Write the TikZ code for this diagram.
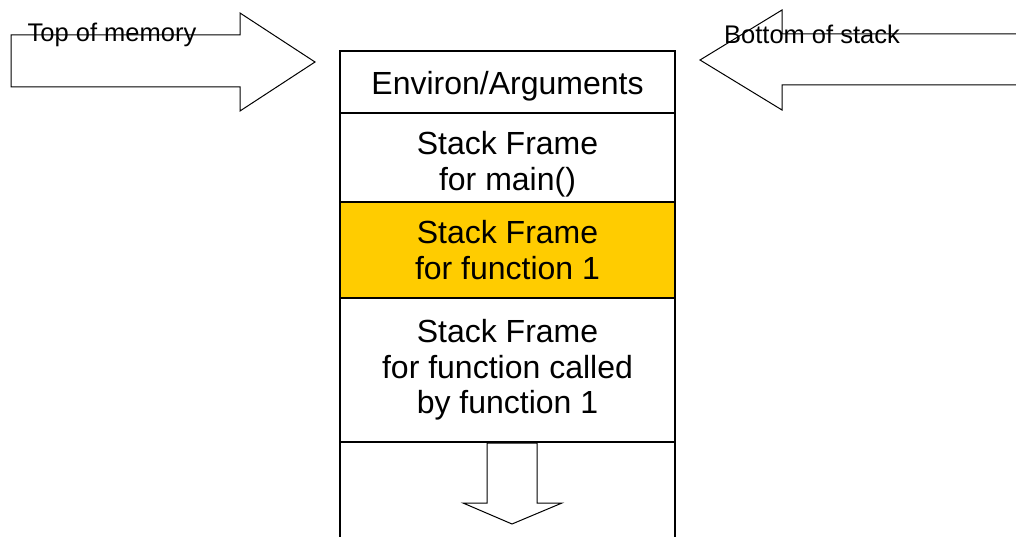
\documentclass[tikz,border=0pt]{standalone}
\usepackage{fontspec}
\setmainfont{Liberation Sans}
\usepackage{xcolor}
\usepackage{tikz}
\usetikzlibrary{positioning}
\definecolor{frameyellow}{HTML}{FFCC00}
\newcommand{\rowfont}{\fontsize{32}{35.5}\selectfont}
\newcommand{\tagfont}{\fontsize{25.5}{30}\selectfont}
\tikzset{
  stackrow/.style={draw, line width=1.2pt, minimum width=335pt, inner sep=0pt, outer sep=0pt, align=center, font=\rowfont},
  blockarrow/.style={draw, line width=1pt, line join=miter}
}

\begin{document}
\begin{tikzpicture}[x=1pt, y=-1pt]
\useasboundingbox (0,0) rectangle (1016,537);
% Stack rows
\node[stackrow, minimum height=62pt] (environ) at (507.5,82) {\rule{0pt}{31pt}Environ/Arguments};
\node[stackrow, minimum height=89pt, below=0pt of environ] (mainframe) {\rule{0pt}{37pt}Stack Frame\\for main()};
\node[stackrow, minimum height=96pt, fill=frameyellow, below=0pt of mainframe] (funcframe) {Stack Frame\\for function 1};
\node[stackrow, minimum height=144pt, below=0pt of funcframe] (calledframe) {Stack Frame\\for function called\\by function 1};
\node[stackrow, draw=none, minimum height=95pt, below=0pt of calledframe] (growth) {};
\draw[line width=1.2pt] (growth.north west) -- (growth.south west);
\draw[line width=1.2pt] (growth.north east) -- (growth.south east);
% Growth arrow
\draw[blockarrow] (487,443) -- (487,503) -- (463,503) -- (512,524) -- (562,503) -- (537,503) -- (537,443) -- cycle;
% Side arrows
\draw[blockarrow] (11,35) -- (240,35) -- (240,13) -- (315,62) -- (240,111) -- (240,87) -- (11,87) -- cycle;
\draw[blockarrow] (1016,34) -- (782,34) -- (782,10) -- (700,60) -- (782,110) -- (782,85) -- (1016,85);
% Labels
\node[font=\tagfont, anchor=base, inner sep=0pt] (topmem) at (112,42) {Top of memory};
\node[font=\tagfont, anchor=base, inner sep=0pt] (botstack) at (812,44) {Bottom of stack};
\end{tikzpicture}
\end{document}
